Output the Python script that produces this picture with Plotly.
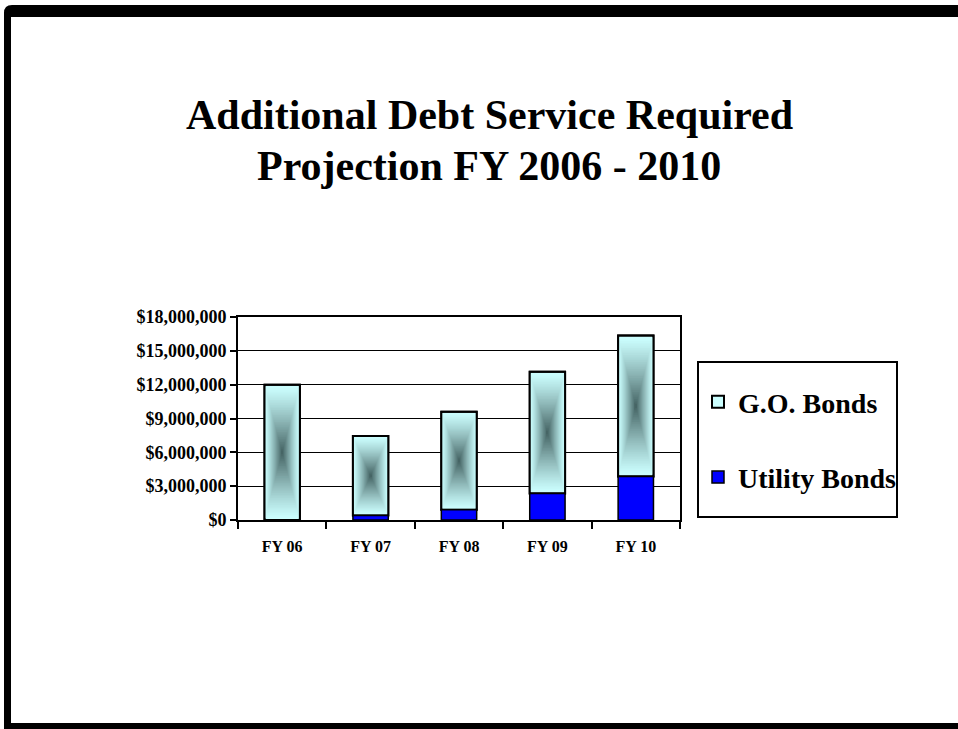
import numpy as np
import plotly.graph_objects as go

# Stacked debt service projection by fiscal year
categories = ["FY 06", "FY 07", "FY 08", "FY 09", "FY 10"]
utility_bonds = [0, 400000, 900000, 2350000, 3850000]
go_bonds = [12000000, 7050000, 8700000, 10800000, 12500000]
y_ticks = [0, 3000000, 6000000, 9000000, 12000000, 15000000, 18000000]
y_tick_labels = ["$0", "$3,000,000", "$6,000,000", "$9,000,000",
                 "$12,000,000", "$15,000,000", "$18,000,000"]

W, H = 958, 729
PLOT_L, PLOT_R, PLOT_T, PLOT_B = 238, 680, 317, 520
FONT = "Liberation Serif"


def px_x(x):
    return (x - PLOT_L) / (PLOT_R - PLOT_L)


def px_y(y):
    return (PLOT_B - y) / (PLOT_B - PLOT_T)


def rgb(c):
    return "rgb(%d,%d,%d)" % tuple(int(round(v)) for v in c)


BAR_W = 0.4
EDGE = np.array([204, 255, 255])
CORE = np.array([66, 96, 96])
LAYERS = 40

fig = go.Figure()

# G.O. bonds: base fill (carries the legend entry)
fig.add_bar(
    x=categories, y=go_bonds, base=utility_bonds, width=BAR_W,
    marker=dict(color=rgb(EDGE), line=dict(color="black", width=2)),
    name="G.O. Bonds", legendgroup="go", legendrank=1, hoverinfo="skip",
)

# "From centre" rectangular gradient built from concentric bars
mids = [u + g / 2 for u, g in zip(utility_bonds, go_bonds)]
for k in range(1, LAYERS):
    f = 1 - k / LAYERS
    t = (k / LAYERS) ** 1.2
    halves = [g / 2 * f for g in go_bonds]
    fig.add_bar(
        x=categories,
        y=[2 * h for h in halves],
        base=[m - h for m, h in zip(mids, halves)],
        width=BAR_W * f,
        marker=dict(color=rgb(EDGE + (CORE - EDGE) * t), line=dict(width=0)),
        showlegend=False, hoverinfo="skip",
    )

# Outline on top of the gradient
fig.add_bar(
    x=categories, y=go_bonds, base=utility_bonds, width=BAR_W,
    marker=dict(color="rgba(0,0,0,0)", line=dict(color="black", width=2)),
    showlegend=False, hoverinfo="skip",
)

# Utility bonds
fig.add_bar(
    x=categories, y=utility_bonds, width=BAR_W,
    marker=dict(color="#0000FF", line=dict(color="black", width=1.5)),
    name="Utility Bonds", legendgroup="ut", legendrank=2, hoverinfo="skip",
)

# Slide frame (top, left and bottom bands)
pts = [(4, 730), (4, 13), ("Q", 4, 5, 12, 5), (962, 5), (962, 17), (11, 17),
       (11, 723), (962, 723), (962, 730)]
path = "M %f,%f" % (px_x(4), px_y(730))
for p in pts[1:]:
    if p[0] == "Q":
        path += " Q %f,%f %f,%f" % (px_x(p[1]), px_y(p[2]), px_x(p[3]), px_y(p[4]))
    else:
        path += " L %f,%f" % (px_x(p[0]), px_y(p[1]))
path += " Z"

shapes = [
    dict(type="path", path=path, xref="paper", yref="paper",
         fillcolor="black", line=dict(width=0), layer="above"),
    dict(type="rect", xref="paper", yref="paper",
         x0=px_x(698), x1=px_x(897), y0=px_y(517), y1=px_y(362),
         line=dict(color="black", width=2), fillcolor="rgba(0,0,0,0)", layer="above"),
]

annotations = [
    dict(text="Additional Debt Service Required", x=px_x(489), y=px_y(115),
         xref="paper", yref="paper", showarrow=False, xanchor="center", yanchor="middle",
         font=dict(family=FONT, size=42, color="black", weight="bold")),
    dict(text="Projection FY 2006 - 2010", x=px_x(489), y=px_y(166),
         xref="paper", yref="paper", showarrow=False, xanchor="center", yanchor="middle",
         font=dict(family=FONT, size=42, color="black", weight="bold")),
]

fig.update_layout(
    width=W, height=H,
    margin=dict(l=PLOT_L, r=W - PLOT_R, t=PLOT_T, b=H - PLOT_B, pad=0, autoexpand=False),
    paper_bgcolor="white", plot_bgcolor="white",
    barmode="overlay",
    showlegend=True,
    legend=dict(
        x=px_x(698), y=px_y(377), xanchor="left", yanchor="top",
        bgcolor="rgba(0,0,0,0)", borderwidth=0,
        font=dict(family=FONT, size=28, color="black", weight="bold"),
        tracegroupgap=36, traceorder="grouped",
    ),
    shapes=shapes,
    annotations=annotations,
    xaxis=dict(
        type="category", showline=True, linecolor="black", linewidth=2, mirror=True,
        ticks="outside", tickson="boundaries", ticklen=7, tickwidth=2, tickcolor="black",
        ticklabelstandoff=11, showgrid=False, fixedrange=True,
        tickfont=dict(family=FONT, size=16, color="black", weight="bold"),
    ),
    yaxis=dict(
        range=[0, 18000000], tickvals=y_ticks, ticktext=y_tick_labels,
        showgrid=True, gridcolor="black", gridwidth=1, zeroline=False,
        showline=True, linecolor="black", linewidth=2, mirror=True,
        ticks="outside", ticklen=6, tickwidth=2, tickcolor="black", fixedrange=True,
        tickfont=dict(family=FONT, size=18, color="black", weight="bold"),
    ),
)

fig.write_html("out.html", config={"displayModeBar": False})
